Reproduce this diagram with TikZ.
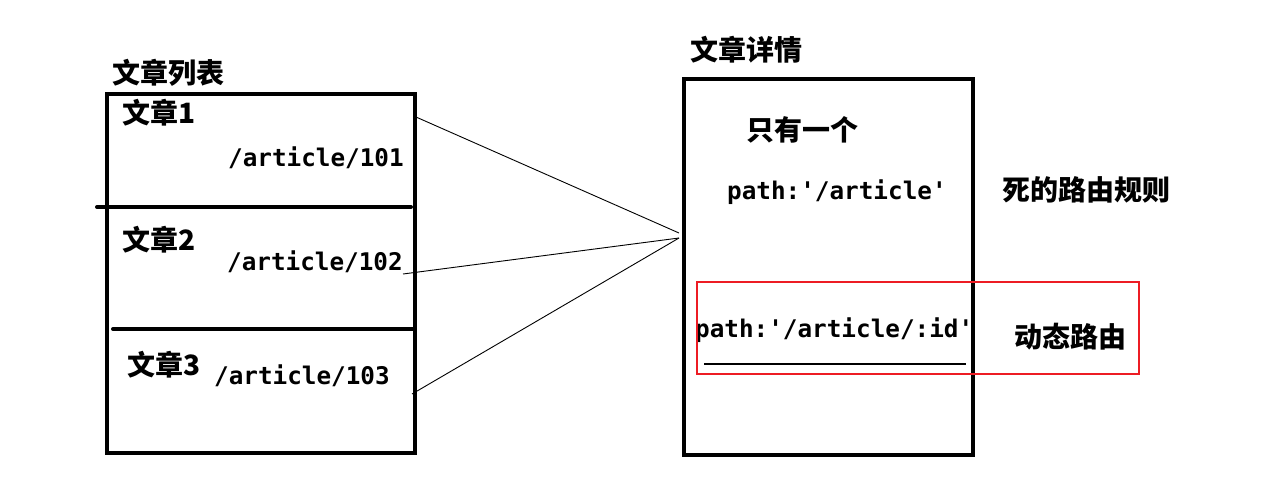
\documentclass[tikz,border=0pt]{standalone}
\usepackage{fontspec}
\newfontfamily\cjk{Noto Sans CJK SC}
\newfontfamily\mono{DejaVu Sans Mono}
\definecolor{boxred}{RGB}{237,28,36}
\tikzset{
  zh/.style={inner sep=0pt, anchor=west, font=\cjk\bfseries\fontsize{28}{28}\selectfont},
  url/.style={inner sep=0pt, anchor=west, font=\mono\bfseries\fontsize{24.3}{24.3}\selectfont},
  bigbox/.style={draw, line width=4pt, inner sep=0pt, outer sep=0pt, anchor=north west},
  divider/.style={line width=4pt},
  link/.style={line width=0.9pt},
}
\begin{document}
\begin{tikzpicture}[x=1pt,y=-1pt]
\useasboundingbox[fill=white] (0,0) rectangle (1268,496);
% titles
\node[zh] (t1) at (112,73) {文章列表};
\node[zh] (t2) at (690,50) {文章详情};
% left box content
\node[zh] (a1) at (122,113) {文章1};
\node[url] (u1) at (228,158) {/article/101};
\node[zh] (a2) at (122,240) {文章2};
\node[url] (u2) at (227,262) {/article/102};
\node[zh] (a3) at (127,365) {文章3};
\node[url] (u3) at (214,376) {/article/103};
% right box content
\node[zh] (one) at (746,130) {只有一个};
\node[url] (p1) at (727,192) {path:'/article'};
\node[zh] (dead) at (1002,190) {死的路由规则};
\node[url] (p2) at (695,330) {path:'/article/:id'};
\node[zh] (dyn) at (1014,337) {动态路由};
% boxes
\node[bigbox, minimum width=308pt, minimum height=359pt] (list) at (107,94) {};
\node[bigbox, minimum width=289pt, minimum height=376pt] (detail) at (684,79) {};
% dividers
\coordinate (d1a) at (97,207);
\coordinate (d1b) at (411,207);
\coordinate (d2a) at (113,329);
\coordinate (d2b) at (413,329);
\draw[divider, line cap=round] (d1a) -- (d1b);
\draw[divider, line cap=round] (d2a) -- (d2b);
% underline and red frame
\coordinate (ula) at (704,364);
\coordinate (ulb) at (966,364);
\draw[line width=1.3pt] (ula) -- (ulb);
\node[draw=boxred, line width=1.2pt, inner sep=0pt, outer sep=0pt, anchor=north west, minimum width=442pt, minimum height=92pt] (dynframe) at (697,282) {};
% connectors
\coordinate (s1) at (416,117);
\coordinate (s2) at (403,274);
\coordinate (s3) at (412,394);
\coordinate (h1) at (679,233);
\coordinate (h2) at (679,238);
\draw[link] (s1) -- (h1);
\draw[link] (s2) -- (h2);
\draw[link] (s3) -- (h2);
\end{tikzpicture}
\end{document}
